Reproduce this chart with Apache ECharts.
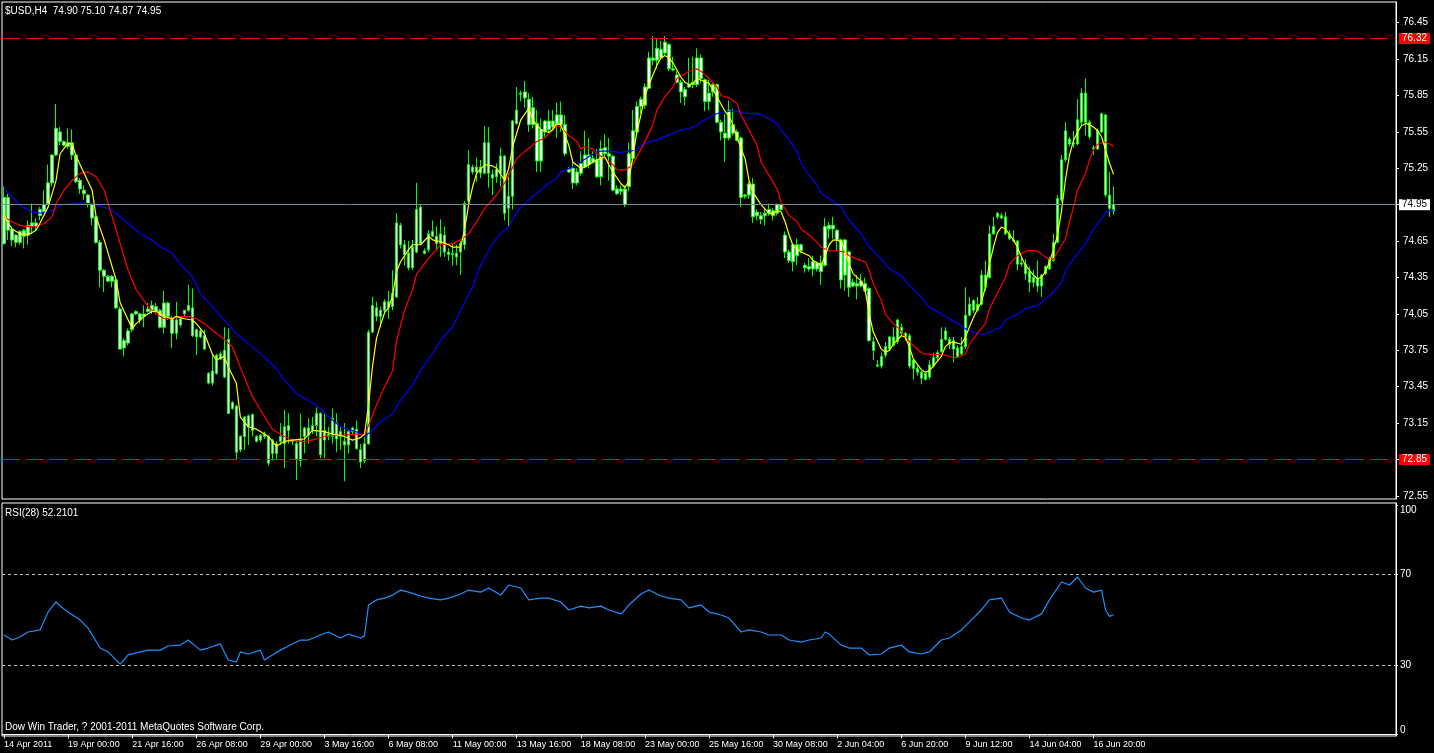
<!DOCTYPE html>
<html><head><meta charset="utf-8">
<script src="https://cdn.jsdelivr.net/npm/echarts@6/dist/echarts.min.js"></script>
<style>html,body{margin:0;padding:0;background:#000;overflow:hidden}#c{width:1434px;height:753px}</style>
</head><body><div id="c"></div><script>
const symbolTitle = '$USD,H4  74.90 75.10 74.87 74.95';
const rsiTitle = 'RSI(28) 52.2101';
const footerText = 'Dow Win Trader, ? 2001-2011 MetaQuotes Software Corp.';
const tickLabels = ['14 Apr 2011','19 Apr 00:00','21 Apr 16:00','26 Apr 08:00','29 Apr 00:00','3 May 16:00','6 May 08:00','11 May 00:00','13 May 16:00','18 May 08:00','23 May 00:00','25 May 16:00','30 May 08:00','2 Jun 04:00','6 Jun 20:00','9 Jun 12:00','14 Jun 04:00','16 Jun 20:00'];
const priceTicks = [72.55,72.85,73.15,73.45,73.75,74.05,74.35,74.65,74.95,75.25,75.55,75.85,76.15,76.45];
const rsiTicks = [0,30,70,100];
const rsiLevels = [70,30];
const upperLevel = 76.32;
const lowerLevel = 72.85;
const bidPrice = 74.95;
const slotCount = 348;
// [open, high, low, close]
const ohlc = [
[74.63,75.10,74.62,75.01],[75.01,75.04,74.66,74.74],[74.75,74.77,74.61,74.66],[74.64,74.71,74.60,74.70],[74.73,74.74,74.62,74.64],
[74.69,74.75,74.59,74.74],[74.70,74.82,74.62,74.78],[74.77,74.96,74.71,74.80],[74.80,74.84,74.74,74.77],[74.86,74.93,74.82,74.91],
[74.89,75.07,74.88,74.95],[74.96,75.28,74.95,75.13],[75.13,75.36,75.10,75.36],[75.36,75.78,75.35,75.58],[75.55,75.59,75.44,75.47],
[75.47,75.48,75.43,75.44],[75.46,75.58,75.41,75.43],[75.46,75.57,75.32,75.36],[75.36,75.37,75.13,75.14],[75.15,75.17,75.04,75.08],
[75.07,75.11,74.99,75.04],[75.03,75.04,74.93,74.96],[74.95,74.96,74.78,74.84],[74.85,74.86,74.63,74.64],[74.64,74.66,74.27,74.41],
[74.41,74.42,74.23,74.36],[74.36,74.37,74.31,74.32],[74.32,74.37,74.27,74.36],[74.33,74.34,74.09,74.10],[74.09,74.11,73.76,73.76],
[73.77,73.85,73.70,73.83],[73.81,73.93,73.79,73.91],[73.92,74.06,73.90,74.05],[74.05,74.08,74.04,74.07],[74.05,74.06,73.97,74.00],
[74.03,74.12,73.94,74.05],[74.07,74.14,74.06,74.09],[74.07,74.16,74.05,74.12],[74.11,74.14,74.05,74.07],[74.08,74.09,73.93,73.94],
[73.94,74.24,73.89,74.14],[74.14,74.15,74.00,74.03],[74.01,74.03,73.77,73.89],[73.89,74.15,73.84,74.00],[73.96,74.03,73.94,74.01],
[74.05,74.08,74.03,74.08],[74.08,74.29,74.07,74.12],[74.10,74.26,73.86,73.87],[73.86,73.93,73.71,73.92],[73.91,73.93,73.85,73.86],
[73.87,73.92,73.75,73.76],[73.56,73.57,73.47,73.48],[73.48,73.71,73.46,73.58],[73.56,73.72,73.55,73.71],[73.68,73.74,73.67,73.72],
[73.53,73.94,73.52,73.75],[73.84,73.93,73.23,73.23],[73.32,73.33,73.26,73.27],[73.29,73.30,72.85,72.91],[72.93,73.05,72.91,73.04],
[73.04,73.21,72.93,73.20],[73.21,73.22,72.97,73.12],[73.09,73.23,73.04,73.22],[73.04,73.05,72.99,73.00],[73.01,73.06,72.99,73.05],
[73.04,73.08,73.02,73.06],[73.04,73.05,72.80,72.82],[72.90,73.02,72.84,73.01],[72.98,73.00,72.85,72.90],[73.00,73.15,72.97,73.04],
[72.98,73.26,72.78,73.12],[73.09,73.23,72.98,73.13],[73.01,73.02,72.97,73.00],[72.98,73.00,72.68,72.85],[72.84,73.23,72.79,73.01],
[73.04,73.12,72.90,73.11],[73.11,73.19,72.98,73.05],[73.09,73.20,73.06,73.13],[73.13,73.28,73.04,73.23],[73.23,73.24,72.86,72.89],
[73.01,73.23,72.86,73.09],[73.06,73.12,73.01,73.04],[73.04,73.27,72.98,73.19],[73.15,73.23,72.91,73.02],[73.04,73.12,72.93,73.08],
[73.00,73.15,72.67,72.97],[72.97,73.09,72.90,73.08],[73.08,73.12,73.05,73.11],[73.10,73.17,72.93,72.94],[72.93,72.98,72.78,72.83],
[72.84,73.05,72.82,72.98],[72.98,73.92,72.97,73.90],[73.90,74.19,73.89,74.12],[74.10,74.15,73.99,74.03],[74.03,74.11,73.94,74.08],
[74.08,74.17,74.05,74.15],[74.15,74.24,74.01,74.10],[74.11,74.41,74.08,74.22],[74.19,74.88,74.18,74.80],[74.78,74.80,74.59,74.62],
[74.62,74.66,74.45,74.54],[74.55,74.65,74.41,74.43],[74.43,74.66,74.41,74.60],[74.56,75.13,74.55,74.91],[74.93,74.95,74.62,74.63],
[74.57,74.59,74.54,74.55],[74.58,74.74,74.56,74.71],[74.69,74.82,74.69,74.73],[74.69,74.77,74.58,74.63],[74.63,74.83,74.52,74.71],
[74.70,74.77,74.52,74.56],[74.56,74.59,74.49,74.54],[74.54,74.63,74.45,74.55],[74.55,74.62,74.45,74.52],[74.56,74.65,74.37,74.63],
[74.62,74.98,74.58,74.96],[74.98,75.40,74.96,75.28],[75.26,75.28,75.20,75.22],[75.22,75.34,75.14,75.26],[75.26,75.32,75.17,75.21],
[75.21,75.60,75.20,75.46],[75.46,75.59,75.09,75.21],[75.20,75.24,75.03,75.17],[75.18,75.29,75.13,75.24],[75.21,75.42,75.10,75.35],
[75.35,75.36,74.82,74.88],[74.92,75.21,74.77,75.02],[75.02,75.65,74.91,75.64],[75.62,75.92,75.61,75.73],[75.86,75.89,75.80,75.87],
[75.88,75.97,75.75,75.83],[75.82,75.87,75.55,75.61],[75.61,75.84,75.58,75.75],[75.62,75.73,75.22,75.31],[75.31,75.66,75.22,75.57],
[75.55,75.65,75.51,75.64],[75.64,75.73,75.54,75.57],[75.59,75.73,75.57,75.64],[75.61,75.79,75.50,75.69],[75.69,75.80,75.55,75.61],
[75.61,75.69,75.35,75.37],[75.24,75.26,75.21,75.22],[75.25,75.32,75.08,75.13],[75.13,75.25,75.11,75.22],[75.21,75.39,75.19,75.29],
[75.26,75.56,75.25,75.36],[75.36,75.50,75.25,75.28],[75.30,75.39,75.29,75.33],[75.32,75.41,75.17,75.18],[75.18,75.48,75.11,75.41],
[75.42,75.53,75.35,75.37],[75.37,75.50,75.15,75.35],[75.35,75.36,75.06,75.07],[75.04,75.11,75.03,75.08],[75.08,75.11,75.03,75.06],
[75.08,75.11,74.93,74.95],[75.10,75.46,75.06,75.37],[75.33,75.73,75.30,75.56],[75.55,75.80,75.52,75.76],[75.76,75.84,75.70,75.82],
[75.77,75.95,75.74,75.92],[75.91,76.21,75.91,76.16],[76.16,76.34,76.10,76.14],[76.14,76.32,76.07,76.24],[76.23,76.30,76.16,76.16],
[76.20,76.34,76.18,76.29],[76.27,76.28,76.05,76.07],[76.07,76.17,76.05,76.06],[76.02,76.05,75.95,75.96],[75.96,75.98,75.79,75.88],
[75.90,75.92,75.77,75.84],[75.92,76.16,75.91,75.94],[75.94,76.17,75.91,75.96],[75.94,76.24,75.92,76.16],[76.16,76.19,75.95,75.99],
[75.98,75.99,75.72,75.80],[75.80,75.98,75.73,75.87],[75.88,75.95,75.84,75.94],[75.94,75.95,75.62,75.63],[75.63,75.65,75.48,75.55],
[75.54,75.70,75.30,75.50],[75.50,75.81,75.48,75.73],[75.61,75.74,75.52,75.54],[75.55,75.57,75.47,75.48],[75.50,75.51,74.93,75.01],
[75.02,75.04,75.00,75.03],[75.03,75.14,75.00,75.12],[75.12,75.17,74.80,74.85],[74.89,74.91,74.82,74.86],[74.86,74.89,74.79,74.83],
[74.86,74.92,74.78,74.88],[74.88,74.96,74.86,74.91],[74.90,74.92,74.82,74.86],[74.88,74.96,74.86,74.95],[74.95,74.95,74.90,74.91],
[74.70,74.73,74.51,74.56],[74.56,74.58,74.47,74.49],[74.48,74.63,74.40,74.62],[74.62,74.67,74.45,74.53],[74.57,74.63,74.55,74.62],
[74.45,74.47,74.39,74.43],[74.42,74.51,74.40,74.44],[74.42,74.53,74.36,74.48],[74.47,74.48,74.40,74.42],[74.47,74.53,74.29,74.40],
[74.45,74.84,74.44,74.77],[74.78,74.81,74.67,74.75],[74.75,74.85,74.67,74.78],[74.74,74.75,74.57,74.66],[74.66,74.67,74.26,74.33],
[74.37,74.67,74.24,74.66],[74.56,74.57,74.19,74.27],[74.28,74.34,74.27,74.31],[74.30,74.37,74.17,74.28],[74.28,74.38,74.27,74.32],
[74.30,74.35,74.23,74.24],[74.26,74.27,73.82,73.83],[73.82,73.86,73.67,73.75],[73.63,73.67,73.61,73.62],[73.62,73.73,73.60,73.70],
[73.71,73.82,73.69,73.78],[73.76,73.87,73.75,73.86],[73.86,73.94,73.78,73.79],[73.82,74.01,73.80,74.00],[73.94,73.97,73.87,73.89],
[73.89,73.90,73.83,73.86],[73.87,73.89,73.60,73.62],[73.60,73.68,73.51,73.67],[73.60,73.62,73.54,73.57],[73.57,73.58,73.47,73.52],
[73.51,73.57,73.50,73.56],[73.53,73.67,73.51,73.63],[73.62,73.73,73.61,73.69],[73.69,73.75,73.67,73.73],[73.74,73.94,73.73,73.84],
[73.84,73.94,73.83,73.91],[73.84,73.86,73.76,73.80],[73.83,73.86,73.65,73.76],[73.77,73.79,73.69,73.70],[73.72,73.86,73.71,73.78],
[73.78,74.27,73.76,74.04],[74.04,74.19,74.03,74.13],[74.08,74.17,74.06,74.16],[74.13,74.19,74.07,74.08],[74.13,74.41,74.12,74.37],
[74.37,74.49,74.24,74.27],[74.35,74.78,74.34,74.71],[74.71,74.85,74.70,74.77],[74.85,74.89,74.83,74.88],[74.86,74.88,74.83,74.84],
[74.85,74.89,74.70,74.71],[74.71,74.74,74.66,74.67],[74.66,74.74,74.64,74.65],[74.65,74.66,74.41,74.46],[74.46,74.52,74.44,74.47],
[74.46,74.50,74.33,74.38],[74.40,74.44,74.23,74.31],[74.31,74.41,74.27,74.35],[74.35,74.49,74.23,74.28],[74.28,74.38,74.19,74.37],
[74.38,74.45,74.37,74.44],[74.42,74.52,74.41,74.50],[74.49,74.71,74.48,74.64],[74.64,75.03,74.63,75.00],[74.99,75.36,74.97,75.32],
[75.32,75.63,75.30,75.56],[75.49,75.51,75.43,75.45],[75.46,75.56,75.42,75.45],[75.45,75.82,75.44,75.65],[75.63,75.91,75.60,75.87],
[75.87,75.99,75.52,75.63],[75.63,75.65,75.49,75.51],[75.42,75.44,75.36,75.41],[75.41,75.58,75.40,75.56],[75.55,75.71,75.54,75.70],
[75.69,75.70,75.01,75.03],[75.03,75.22,74.85,74.92],[74.90,75.10,74.87,74.95]
];
// moving averages: [bar index, value]
const maFast = [[0,74.86],[2,74.75],[4,74.71],[6,74.70],[8,74.74],[9,74.80],[11,74.93],[13,75.15],[14,75.37],[16,75.46],[17,75.45],[18,75.35],[20,75.21],[22,75.07],[23,74.85],[25,74.66],[27,74.44],[28,74.33],[29,74.14],[31,74.00],[32,73.93],[33,73.97],[35,74.03],[37,74.07],[38,74.07],[40,74.03],[42,74.01],[43,74.03],[45,74.01],[47,74.00],[48,73.97],[50,73.89],[52,73.72],[53,73.67],[55,73.70],[56,73.61],[58,73.48],[59,73.20],[61,73.12],[63,73.10],[64,73.08],[66,73.04],[68,72.96],[70,73.00],[72,73.01],[75,73.02],[77,73.09],[80,73.08],[82,73.06],[85,73.04],[87,73.01],[89,73.03],[90,73.06],[91,73.30],[92,73.62],[93,73.85],[94,73.96],[95,74.06],[96,74.10],[97,74.20],[98,74.40],[99,74.48],[101,74.58],[102,74.62],[104,74.62],[106,74.69],[107,74.66],[109,74.645],[111,74.62],[112,74.60],[114,74.60],[115,74.75],[116,74.95],[117,75.10],[118,75.21],[120,75.28],[122,75.27],[123,75.25],[125,75.15],[126,75.25],[127,75.43],[129,75.65],[131,75.745],[132,75.65],[134,75.57],[136,75.545],[137,75.57],[138,75.62],[139,75.61],[141,75.44],[142,75.30],[144,75.25],[145,75.26],[147,75.30],[148,75.32],[150,75.345],[151,75.28],[152,75.22],[154,75.125],[155,75.09],[156,75.15],[157,75.35],[158,75.55],[159,75.69],[160,75.85],[162,76.02],[163,76.10],[164,76.16],[165,76.18],[166,76.16],[167,76.12],[169,76.00],[170,75.96],[171,75.94],[172,75.95],[173,75.99],[175,75.965],[176,75.95],[177,75.895],[178,75.84],[180,75.72],[181,75.68],[182,75.61],[183,75.50],[185,75.33],[186,75.15],[187,75.05],[188,75.00],[189,74.95],[191,74.877],[192,74.877],[193,74.905],[194,74.89],[195,74.81],[196,74.70],[197,74.61],[199,74.56],[201,74.53],[202,74.49],[204,74.45],[205,74.53],[206,74.62],[207,74.66],[209,74.65],[210,74.56],[211,74.46],[212,74.38],[214,74.32],[215,74.24],[216,74.05],[217,73.90],[219,73.76],[220,73.735],[221,73.748],[222,73.80],[224,73.87],[225,73.86],[226,73.78],[227,73.68],[229,73.59],[230,73.57],[231,73.58],[232,73.62],[234,73.70],[235,73.78],[236,73.81],[237,73.817],[239,73.80],[240,73.86],[241,73.94],[242,74.02],[244,74.15],[245,74.27],[246,74.46],[247,74.60],[248,74.72],[249,74.766],[250,74.75],[252,74.66],[253,74.60],[254,74.52],[255,74.45],[257,74.37],[258,74.34],[259,74.35],[260,74.40],[261,74.48],[262,74.58],[263,74.70],[264,74.90],[265,75.16],[266,75.36],[267,75.48],[268,75.55],[269,75.60],[270,75.62],[271,75.61],[272,75.59],[273,75.56],[274,75.51],[275,75.40],[276,75.29],[277,75.20]];
const maMid = [[0,74.85],[2,74.81],[4,74.78],[6,74.77],[8,74.77],[10,74.795],[12,74.85],[13,74.96],[15,75.07],[17,75.15],[19,75.21],[21,75.22],[23,75.18],[25,75.07],[27,74.85],[29,74.63],[31,74.41],[33,74.25],[36,74.11],[38,74.05],[40,74.01],[42,74.01],[44,74.025],[46,74.03],[48,74.01],[50,73.97],[53,73.89],[55,73.84],[57,73.78],[59,73.61],[62,73.37],[64,73.26],[67,73.10],[70,73.04],[72,73.01],[75,72.995],[78,73.02],[80,73.04],[83,73.05],[85,73.05],[88,73.06],[90,73.05],[91,73.13],[93,73.30],[95,73.45],[97,73.58],[98,73.83],[100,74.08],[102,74.25],[103,74.38],[104,74.42],[106,74.51],[108,74.58],[109,74.62],[112,74.63],[114,74.66],[116,74.71],[118,74.81],[120,74.92],[123,75.03],[125,75.13],[127,75.26],[128,75.33],[130,75.39],[132,75.44],[133,75.47],[135,75.50],[138,75.60],[139,75.59],[141,75.52],[143,75.47],[144,75.41],[145,75.43],[147,75.41],[148,75.37],[150,75.33],[152,75.28],[153,75.24],[155,75.235],[157,75.28],[158,75.345],[160,75.47],[162,75.61],[163,75.73],[165,75.84],[167,75.92],[168,75.99],[170,76.03],[171,76.05],[173,76.07],[174,76.05],[175,76.02],[176,75.99],[178,75.92],[179,75.85],[181,75.83],[183,75.785],[184,75.69],[186,75.565],[188,75.44],[189,75.30],[191,75.19],[193,75.08],[194,74.97],[196,74.86],[198,74.81],[199,74.75],[201,74.70],[203,74.64],[204,74.60],[206,74.57],[208,74.57],[210,74.56],[211,74.53],[213,74.50],[215,74.48],[216,74.41],[217,74.30],[219,74.16],[220,74.05],[222,73.97],[224,73.91],[225,73.86],[227,73.79],[229,73.73],[230,73.72],[232,73.715],[234,73.715],[235,73.71],[237,73.69],[238,73.69],[240,73.72],[241,73.80],[243,73.89],[245,73.97],[246,74.09],[248,74.22],[250,74.35],[251,74.46],[253,74.53],[255,74.567],[256,74.573],[258,74.567],[259,74.545],[260,74.52],[261,74.50],[262,74.50],[263,74.56],[265,74.67],[266,74.81],[267,74.93],[268,75.07],[270,75.21],[271,75.32],[272,75.40],[273,75.45],[275,75.467],[276,75.45],[277,75.43]];
const maSlow = [[0,75.08],[2,75.015],[4,74.946],[7,74.89],[9,74.88],[12,74.905],[14,74.946],[18,74.965],[21,74.96],[23,74.946],[26,74.919],[28,74.878],[31,74.795],[34,74.713],[37,74.658],[39,74.603],[42,74.548],[44,74.465],[47,74.355],[49,74.218],[52,74.108],[55,73.998],[58,73.888],[61,73.805],[64,73.723],[68,73.60],[70,73.504],[73,73.394],[78,73.298],[81,73.202],[84,73.119],[88,73.078],[90,73.037],[92,73.092],[94,73.16],[97,73.229],[99,73.339],[102,73.463],[104,73.587],[107,73.724],[109,73.834],[112,73.944],[114,74.082],[117,74.274],[119,74.453],[122,74.632],[124,74.714],[126,74.769],[128,74.893],[131,74.989],[133,75.044],[136,75.127],[138,75.168],[139,75.221],[141,75.249],[143,75.276],[144,75.304],[146,75.345],[148,75.386],[149,75.392],[151,75.392],[153,75.386],[154,75.38],[156,75.392],[158,75.40],[159,75.441],[161,75.469],[163,75.482],[164,75.501],[166,75.524],[168,75.551],[169,75.565],[171,75.578],[173,75.60],[174,75.634],[176,75.666],[178,75.702],[179,75.71],[181,75.721],[183,75.721],[184,75.71],[186,75.702],[188,75.70],[189,75.688],[191,75.661],[193,75.62],[194,75.565],[196,75.482],[198,75.386],[199,75.29],[201,75.193],[203,75.111],[204,75.042],[206,75.0],[209,74.93],[211,74.82],[214,74.71],[216,74.60],[219,74.504],[221,74.422],[224,74.367],[226,74.284],[229,74.188],[231,74.106],[234,74.05],[236,74.009],[239,73.954],[240,73.927],[242,73.899],[244,73.88],[245,73.886],[247,73.913],[249,73.941],[250,73.996],[253,74.05],[255,74.092],[258,74.12],[260,74.174],[262,74.229],[264,74.312],[265,74.408],[267,74.504],[270,74.628],[272,74.752],[274,74.834],[275,74.889],[277,74.91]];
const rsi = [[0,43.4],[2,41.2],[4,42.5],[6,44.7],[9,45.6],[11,53.4],[13,57.8],[14,56.0],[16,53.4],[19,49.9],[21,46.4],[24,37.7],[26,36.0],[29,30.7],[31,34.7],[34,36.0],[36,36.8],[39,36.8],[41,38.6],[44,39.0],[46,41.2],[49,36.8],[51,37.7],[54,39.5],[56,32.5],[58,31.6],[59,36.0],[61,35.1],[64,36.8],[65,32.5],[67,34.7],[69,36.8],[71,38.6],[74,41.2],[76,41.2],[79,43.4],[81,44.7],[84,42.1],[86,43.8],[89,42.1],[90,43.0],[91,56.5],[93,58.7],[95,59.5],[97,60.8],[99,63.0],[101,62.1],[104,60.4],[106,59.5],[109,58.7],[111,59.5],[114,61.3],[116,63.0],[119,62.1],[121,63.9],[124,60.8],[126,65.2],[129,63.9],[131,58.7],[134,59.5],[136,59.5],[139,57.8],[141,54.3],[144,56.0],[146,55.2],[149,56.0],[151,54.3],[154,52.6],[155,54.3],[156,56.5],[159,61.3],[161,63.0],[164,60.4],[166,59.5],[169,58.7],[171,55.2],[174,56.5],[176,53.4],[179,52.1],[181,50.8],[184,44.7],[186,45.6],[189,44.7],[191,43.4],[194,43.4],[196,41.2],[199,40.3],[201,41.2],[204,42.1],[205,44.7],[206,43.8],[209,39.0],[211,37.7],[214,37.7],[216,34.7],[219,35.1],[221,37.7],[224,39.0],[226,36.0],[229,35.1],[231,36.0],[234,41.2],[236,42.1],[239,45.6],[241,49.1],[244,54.3],[246,58.7],[249,59.5],[251,53.4],[254,50.8],[256,49.9],[259,52.6],[261,58.7],[264,66.5],[266,65.2],[268,68.7],[270,63.9],[272,62.1],[274,63.0],[275,54.3],[276,51.5],[277,52.21]];

const FONT = "'Liberation Sans',Arial,sans-serif";
const slots = Array.from({length: slotCount}, (_, i) => String(i));
const showTick = (i) => i % 16 === 0 && i / 16 < tickLabels.length;
const txt = (size) => ({color:'#fff', fontSize:size, fontWeight:'normal', fontFamily:FONT});
const boxLabel = (text, bg, fg) => ({show:true, position:'end', distance:3, formatter:text, backgroundColor:bg, color:fg, padding:[1,3,0,3], lineHeight:10, fontSize:10, fontFamily:FONT});

const chart = echarts.init(document.getElementById('c'), null, {renderer:'canvas'});
chart.setOption({
  backgroundColor:'#000',
  animation:false,
  title:[
    {text:symbolTitle, left:5, top:6, padding:0, textStyle:txt(10)},
    {text:rsiTitle, left:5, top:508, padding:0, textStyle:txt(10)},
    {text:footerText, left:5, top:722, padding:0, textStyle:txt(10)}
  ],
  grid:[
    {left:2, top:2, right:38, height:497, show:true, borderColor:'#fff', borderWidth:1, backgroundColor:'transparent'},
    {left:2, top:503, right:38, height:233, show:true, borderColor:'#fff', borderWidth:1, backgroundColor:'transparent'}
  ],
  xAxis:[
    {type:'category', gridIndex:0, data:slots, boundaryGap:true, axisLine:{show:false}, axisTick:{show:false}, axisLabel:{show:false}, splitLine:{show:false}},
    {type:'category', gridIndex:1, data:slots, boundaryGap:true,
     axisLine:{show:true, lineStyle:{color:'#fff'}},
     axisTick:{show:true, alignWithLabel:true, interval:showTick, length:4, lineStyle:{color:'#fff'}},
     axisLabel:{interval:showTick, formatter:(v, i) => tickLabels[i / 16] || '', align:'left', margin:4, color:'#fff', fontSize:9, fontFamily:FONT},
     splitLine:{show:false}}
  ],
  yAxis:[
    {type:'value', gridIndex:0, position:'right', min:72.5245, max:76.6208,
     axisLine:{show:true, lineStyle:{color:'#fff'}},
     axisTick:{show:true, length:3, customValues:priceTicks, lineStyle:{color:'#fff'}},
     axisLabel:{customValues:priceTicks, formatter:(v) => v.toFixed(2), margin:7, padding:[0,0,2,0], color:'#fff', fontSize:10, fontFamily:FONT},
     splitLine:{show:false}},
    {type:'value', gridIndex:1, position:'right', min:-0.66, max:100.97,
     axisLine:{show:true, lineStyle:{color:'#fff'}},
     axisTick:{show:true, length:2, customValues:rsiTicks, lineStyle:{color:'#fff'}},
     axisLabel:{customValues:rsiTicks, margin:4, color:'#fff', fontSize:10, fontFamily:FONT,
       formatter:(v) => v === 100 ? '{t|100}' : (v === 0 ? '{b|0}' : String(v)),
       rich:{t:{padding:[11,0,0,0], color:'#fff', fontSize:10, fontFamily:FONT}, b:{padding:[0,0,9,0], color:'#fff', fontSize:10, fontFamily:FONT}}},
     splitLine:{show:false}}
  ],
  series:[
    {type:'candlestick', xAxisIndex:0, yAxisIndex:0, barWidth:3,
     data: ohlc.map(([o, h, l, c]) => [o, c, l, h]),
     itemStyle:{color:'#ffffff', color0:'#ffffff', borderColor:'#00ff00', borderColor0:'#00ff00', borderWidth:1},
     markLine:{symbol:'none', silent:true, animation:false,
       data:[
         {yAxis:upperLevel, lineStyle:{color:'#ff0000', type:[18,6], width:1}, label:boxLabel(upperLevel.toFixed(2), '#ff0000', '#fff')},
         {yAxis:lowerLevel, lineStyle:{color:'#ff0000', type:[18,6], width:1}, label:boxLabel(lowerLevel.toFixed(2), '#ff0000', '#fff')},
         {yAxis:bidPrice, lineStyle:{color:'#778899', type:'solid', width:1}, label:boxLabel(bidPrice.toFixed(2), '#fff', '#000')}
       ]}},
    {type:'line', xAxisIndex:0, yAxisIndex:0, data:maSlow, showSymbol:false, lineStyle:{color:'#0000ff', width:1.2}, z:3},
    {type:'line', xAxisIndex:0, yAxisIndex:0, data:maMid, showSymbol:false, lineStyle:{color:'#ff0000', width:1.2}, z:3},
    {type:'line', xAxisIndex:0, yAxisIndex:0, data:maFast, showSymbol:false, lineStyle:{color:'#ffff00', width:1.2}, z:3},
    {type:'line', xAxisIndex:1, yAxisIndex:1, data:rsi, showSymbol:false, lineStyle:{color:'#1e90ff', width:1.2},
     markLine:{symbol:'none', silent:true, animation:false, label:{show:false},
       data: rsiLevels.map(v => ({yAxis:v})), lineStyle:{color:'#c0c0c0', type:[3,3], width:1}}}
  ]
});
</script></body></html>
